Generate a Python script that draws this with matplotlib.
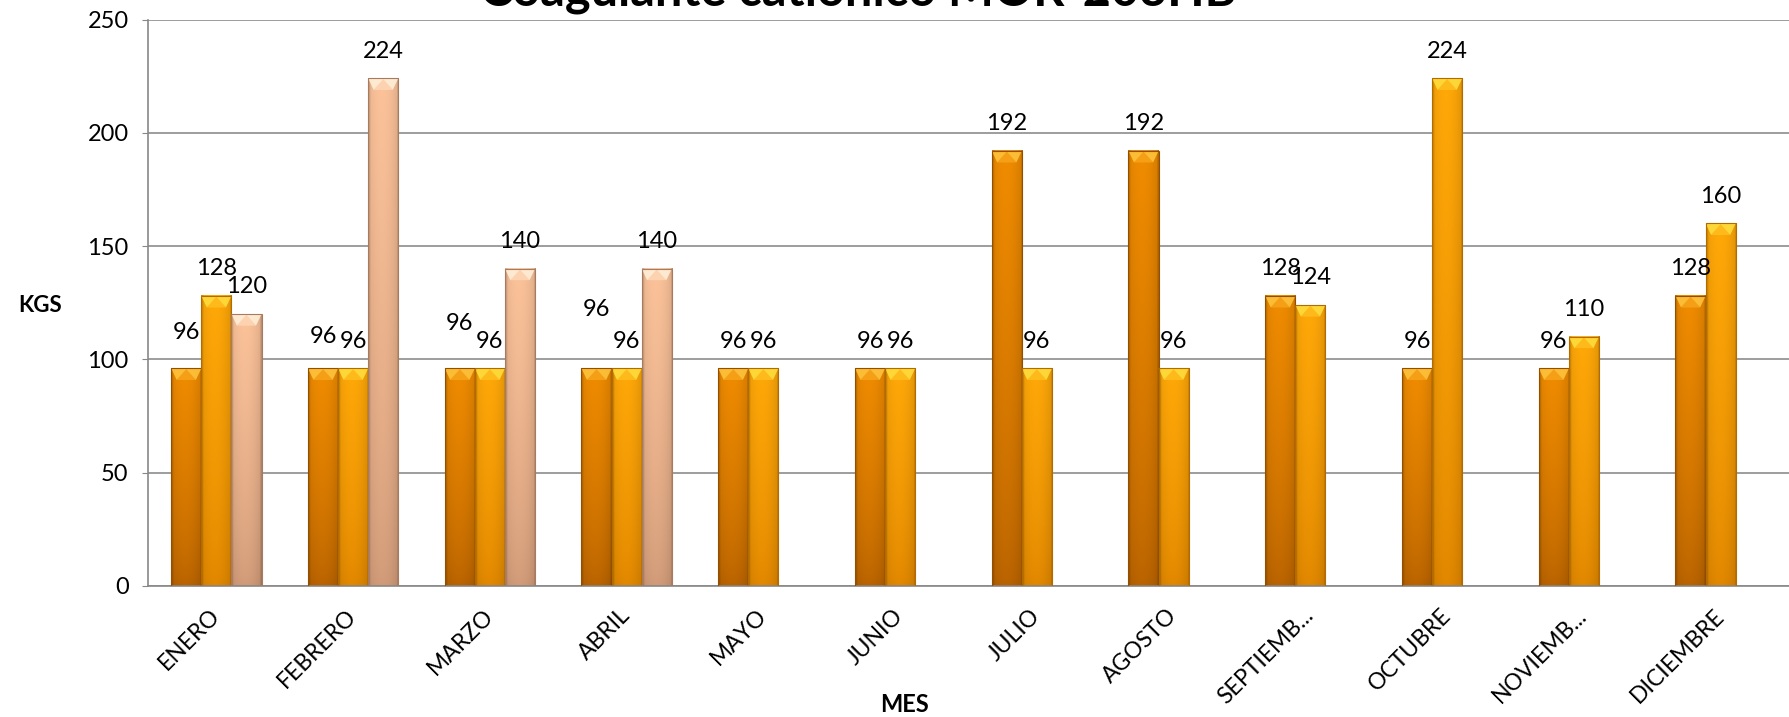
import numpy as np
import matplotlib
matplotlib.use("Agg")
import matplotlib.pyplot as plt
from matplotlib.patches import Rectangle, Polygon
from matplotlib.colors import to_rgb
from matplotlib.transforms import ScaledTranslation

# data
meses = ["ENERO", "FEBRERO", "MARZO", "ABRIL", "MAYO", "JUNIO", "JULIO",
         "AGOSTO", "SEPTIEMB...", "OCTUBRE", "NOVIEMB...", "DICIEMBRE"]
serie1 = [96, 96, 96, 96, 96, 96, 192, 192, 128, 96, 96, 128]
serie2 = [128, 96, 96, 96, 96, 96, 96, 96, 124, 224, 110, 160]
serie3 = [120, 224, 140, 140, None, None, None, None, None, None, None, None]
y_ticks = [0, 50, 100, 150, 200, 250]

# style per series: (top colour, bottom colour, bevel highlight)
estilos = [("#f08c00", "#b86200", "#ffc640"),
           ("#ffa808", "#e08600", "#ffe040"),
           ("#fcc39a", "#d09a78", "#fff2dc")]
# a few labels sit higher in the original chart (series, month) -> extra lift
lift = {(0, 0): 4, (0, 1): 2, (0, 2): 8, (0, 3): 14}

fig = plt.figure(figsize=(17.89, 7.17), dpi=100)
ax = fig.add_axes([148 / 1789, 1 - 586 / 717, 1 - 148 / 1789, (586 - 19.5) / 717])


def shaded_bar(x, h, w, top, bot, hi):
    top, bot, hi = np.array(to_rgb(top)), np.array(to_rgb(bot)), np.array(to_rgb(hi))
    ny, nx = 200, 40
    yy = np.linspace(0, 1, ny)[:, None]
    xx = np.linspace(0, 1, nx)[None, :]
    base = bot + (top - bot) * (yy[..., None] ** 0.7)
    shade = 1 - 0.10 * (np.abs(xx - 0.45) * 2) ** 2
    shade = np.where(xx < 0.06, shade * 0.88, shade)
    shade = np.where(xx > 0.96, shade * 0.85, shade)
    img = np.clip(base * shade[..., None], 0, 1)
    ax.imshow(img, extent=(x - w / 2, x + w / 2, 0, h), origin="lower",
              aspect="auto", interpolation="bilinear", zorder=2)
    bh = 5
    bw = w * 0.18
    ax.add_patch(Polygon([(x - w / 2, h), (x + w / 2, h), (x + w / 2 - bw, h - bh),
                          (x - w / 2 + bw, h - bh)], closed=True,
                         facecolor=hi, edgecolor="none", alpha=0.85, zorder=3))
    ax.add_patch(Polygon([(x - w / 2 + bw, h - bh), (x + w / 2 - bw, h - bh), (x, h - 0.3)],
                         closed=True, facecolor=top, edgecolor="none", alpha=0.6, zorder=3))
    ax.add_patch(Rectangle((x - w / 2, 0), w, h, facecolor="none",
                           edgecolor=bot * 0.8, lw=0.8, zorder=4))


w = 0.22
for j, serie in enumerate([serie1, serie2, serie3]):
    top, bot, hi = estilos[j]
    for i, v in enumerate(serie):
        if v is None:
            continue
        xc = i + (j - 1) * w
        shaded_bar(xc, v, w, top, bot, hi)
        ax.text(xc, v + 12 + lift.get((j, i), 0), str(v), ha="center", va="center",
                fontsize=17, family="Lato", color="black", zorder=5)

ax.set_xlim(-0.5, len(meses) - 0.5)
ax.set_ylim(0, 250)
ax.set_yticks(y_ticks)
ax.set_yticklabels([str(t) for t in y_ticks], fontsize=17, family="Lato")
ax.set_xticks(range(len(meses)))
ax.set_xticklabels(meses, rotation=45, ha="right", va="center", rotation_mode="anchor",
                   fontsize=16.5, family="Lato")
shift = ScaledTranslation(12 / 100, 0, fig.dpi_scale_trans)
for lbl in ax.get_xticklabels():
    lbl.set_transform(lbl.get_transform() + shift)
ax.tick_params(axis="x", length=0, pad=19)
ax.tick_params(axis="y", length=4, color="#888888", pad=10)
ax.grid(axis="y", color="#8c8c8c", lw=1.2, zorder=0)
ax.set_axisbelow(True)
for s in ["top", "right"]:
    ax.spines[s].set_visible(False)
for s in ["left", "bottom"]:
    ax.spines[s].set_color("#888888")
    ax.spines[s].set_linewidth(1.2)

fig.text(40 / 1789, 1 - 306 / 717, "KGS", ha="center", va="center",
         fontsize=16, fontweight="bold", family="Lato")
fig.text(905 / 1789, 1 - 704 / 717, "MES", ha="center", va="center",
         fontsize=17, fontweight="bold", family="Lato")
fig.text(858 / 1789, 1 - 6 / 717, "Coagulante catiónico MOR-203HB", ha="center",
         va="baseline", fontsize=35, fontweight="bold", family="Lato")

fig.savefig("out.png", dpi=100)
